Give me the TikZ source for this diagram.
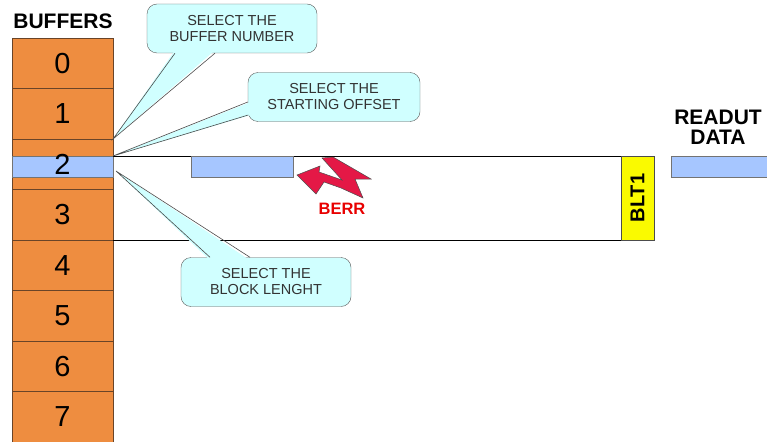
\documentclass[tikz,border=0pt]{standalone}
\usepackage{fontspec}
\setmainfont{Liberation Sans}
\usetikzlibrary{calc}

\definecolor{bufferorange}{RGB}{238,141,64}
\definecolor{cellline}{RGB}{105,68,40}
\definecolor{blockblue}{RGB}{166,198,255}
\definecolor{noteblue}{RGB}{208,255,255}
\definecolor{bltyellow}{RGB}{250,250,0}
\definecolor{berrred}{RGB}{228,24,70}
\definecolor{berrtext}{RGB}{232,0,0}

\begin{document}
\begin{tikzpicture}[x=1pt,y=-1pt,
    bufcell/.style={draw=cellline,fill=bufferorange,minimum width=101pt,
      minimum height=50.5pt,inner sep=0pt,outer sep=0pt},
    block/.style={draw=black!55,fill=blockblue,minimum height=21pt,
      inner sep=0pt,outer sep=0pt},
    note/.style={draw=black!65,fill=noteblue,rounded corners=10pt,
      minimum width=170pt,minimum height=49pt,align=center,inner sep=0pt,
      font=\fontsize{14.5}{16}\selectfont,text=black!80},
    tail/.style={fill=noteblue},
    tailedge/.style={draw=black!70,line width=0.6pt},
    frame/.style={draw=black,line width=0.6pt},
    title/.style={font=\fontsize{21}{20}\selectfont\bfseries,align=center}]

  \clip (0,0) rectangle (767,441);

  % buffer column
  \node[title] (buffers) at (63,21) {BUFFERS};
  \foreach \i in {0,...,7}
    \node[bufcell] (b\i) at (62.5,{63.25+50.5*\i}) {};
  \node[block,minimum width=101pt] (sel) at (62.5,166.5) {};
  \foreach \i in {0,...,7}
    \node[font=\fontsize{29}{29}\selectfont] (d\i) at (b\i) {\i};

  % block transfer
  \node[draw=black!70,fill=bltyellow,minimum width=33pt,minimum height=84pt,
        inner sep=0pt,outer sep=0pt] (blt) at (637.5,198) {};
  \node[rotate=90,font=\fontsize{20}{20}\selectfont\bfseries] (bltlabel) at (blt) {BLT1};
  \draw[frame] (sel.north east) -- (blt.north west);
  \draw[frame] (b3.south east) -- (blt.south west);
  \node[block,minimum width=102pt] (chunk) at (242,166.5) {};

  % bus error
  \filldraw[fill=berrred,draw=black!70,line width=0.5pt]
    (297,175) -- (320,166) -- (319,172) -- (342,180) -- (322,158) -- (333,157)
    -- (371,179) -- (355,179) -- (363,198) -- (341,188) -- (324,182) -- (316,194) -- cycle;
  \node[font=\fontsize{16.5}{16}\selectfont\bfseries,text=berrtext] (berr) at (342,209) {BERR};

  % readout
  \node[title] (readlabel) at (718,127) {READUT\\DATA};
  \node[block,minimum width=110pt] (readout) at (726,167) {};

  % callouts
  \node[note] (bufnum) at (232,28.5) {SELECT THE\\BUFFER NUMBER};
  \fill[tail] ($(bufnum.south)+(-57,-3)$) -- (b1.south east) -- ($(bufnum.south)+(-17,-3)$) -- cycle;
  \draw[tailedge] ($(bufnum.south)+(-57,0)$) -- (b1.south east) -- ($(bufnum.south)+(-17,0)$);

  \node[note,minimum width=172pt] (startoff) at (334,97) {SELECT THE\\STARTING OFFSET};
  \fill[tail] ($(startoff.west)+(3,5)$) -- (sel.north east) -- ($(startoff.west)+(3,18)$) -- cycle;
  \draw[tailedge] ($(startoff.west)+(0,5)$) -- (sel.north east) -- ($(startoff.west)+(0.5,18)$);

  \coordinate (blktip) at (116,171);
  \node[note] (blklen) at (266,282) {SELECT THE\\BLOCK LENGHT};
  \fill[tail] ($(blklen.north)+(-56,3)$) -- (blktip) -- ($(blklen.north)+(-16,3)$) -- cycle;
  \draw[tailedge] ($(blklen.north)+(-56,0)$) -- (blktip) -- ($(blklen.north)+(-16,0)$);

\end{tikzpicture}
\end{document}
